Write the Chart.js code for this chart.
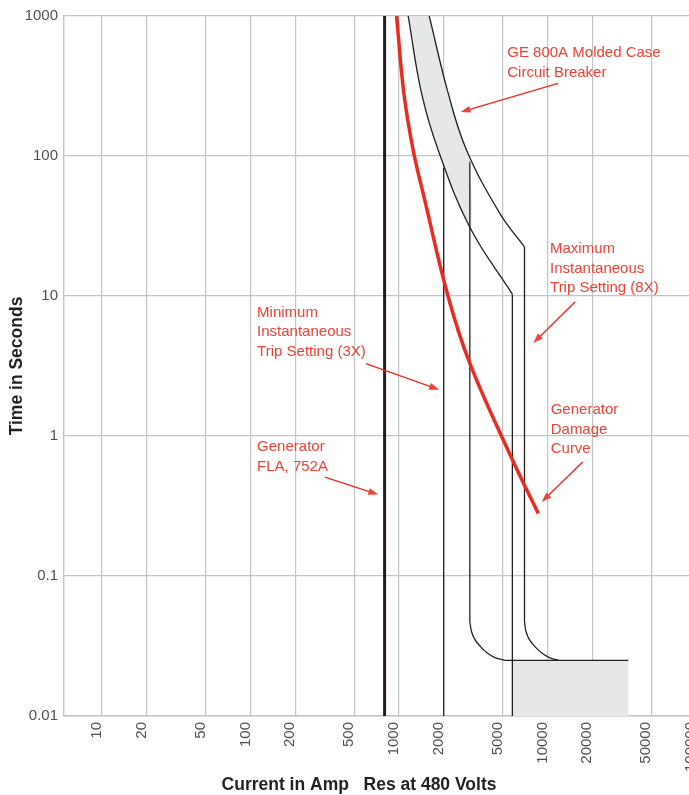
<!DOCTYPE html>
<html>
<head>
<meta charset="utf-8">
<title>Generator protection coordination</title>
<script src="https://cdn.jsdelivr.net/npm/chart.js@4.4.1/dist/chart.umd.min.js"></script>
<style>
  html, body { margin: 0; padding: 0; background: #fff; overflow: hidden; }
  #wrap { width: 689px; height: 795px; overflow: hidden; }
</style>
</head>
<body>
<div id="wrap"><canvas id="tcc" width="700" height="795"></canvas></div>
<script>
// axis ticks
const currentTicks = [10, 20, 50, 100, 200, 500, 1000, 2000, 5000, 10000, 20000, 50000, 100000];
const timeTicks = [0.01, 0.1, 1, 10, 100, 1000];

// generator damage curve (amps / seconds)
const damageAmps = [963, 1079, 1246, 1494, 2146, 3004, 5830, 8670];
const damageSecs = [1000, 280, 110, 48, 9.84, 3.29, 0.67, 0.279];

// breaker thermal band, lower and upper edge
const lowerAmps = [1153, 1420, 1838, 3000, 5800];
const lowerSecs = [1000, 280, 110, 31, 10.3];
const upperAmps = [1598, 2146, 2853, 4786, 7000];
const upperSecs = [1000, 280, 110, 38.8, 22.4];

// instantaneous pickups and where they leave the thermal curves
const flaAmps = 800;
const minInstAmps = 2000, minInstTopSecs = 82;
const minInstHiAmps = 3000, minInstHiTopSecs = 91;
const maxInstAmps = 5800, maxInstTopSecs = 10.3;
const maxInstHiAmps = 7000, maxInstHiTopSecs = 22.4;

// instantaneous knee into clearing time
const kneeSecs = [0.0469, 0.0398, 0.0351, 0.0316, 0.0284, 0.0261, 0.025];
const kneeLowAmps = [3000, 3085, 3248, 3510, 3894, 4429, 5171];
const kneeHighAmps = [7000, 7180, 7560, 8170, 9070, 10300, 11900];
const clearSecs = 0.025;
const clearEndAmps = 35000;

const RED = '#ec2b20';
const INK = '#231f20';
const SHADE = '#e6e7e9';
const GRID = '#c3c4c8';

const pts = (xs, ys) => xs.map((x, i) => ({ x: x, y: ys[i] }));

function line(data, color, width, extra) {
  return Object.assign({
    data: data,
    showLine: true,
    borderColor: color,
    borderWidth: width,
    pointRadius: 0,
    fill: false,
    tension: 0
  }, extra || {});
}

// shaded part of the thermal band, left of the 3X high tolerance line
const bandShape = pts(lowerAmps, lowerSecs).filter(p => p.x <= minInstHiAmps)
  .concat([{ x: minInstHiAmps, y: minInstHiTopSecs }])
  .concat(pts(upperAmps, upperSecs).filter(p => p.x < minInstHiAmps).reverse());

const datasets = [
  line(pts(damageAmps, damageSecs), RED, 3.5, { tension: 0.4 }),
  line([{ x: flaAmps, y: 0.01 }, { x: flaAmps, y: 1000 }], INK, 3),
  line(pts(lowerAmps, lowerSecs), INK, 1.3, { tension: 0.4 }),
  line(pts(upperAmps, upperSecs), INK, 1.3, { tension: 0.4 }),
  line([{ x: minInstAmps, y: 0.01 }, { x: minInstAmps, y: minInstTopSecs }], INK, 1.3),
  line([{ x: minInstHiAmps, y: minInstHiTopSecs }, { x: minInstHiAmps, y: kneeSecs[0] }], INK, 1.3),
  line([{ x: maxInstAmps, y: 0.01 }, { x: maxInstAmps, y: maxInstTopSecs }], INK, 1.3),
  line([{ x: maxInstHiAmps, y: maxInstHiTopSecs }, { x: maxInstHiAmps, y: kneeSecs[0] }], INK, 1.3),
  line(pts(kneeLowAmps, kneeSecs), INK, 1.3, { tension: 0.4 }),
  line(pts(kneeHighAmps, kneeSecs), INK, 1.3, { tension: 0.4 }),
  line([{ x: kneeLowAmps[kneeLowAmps.length - 1], y: clearSecs }, { x: clearEndAmps, y: clearSecs }], INK, 1.3),
  line(bandShape, 'rgba(0,0,0,0)', 0, { fill: 'shape', backgroundColor: SHADE, tension: 0.3 }),
  line([{ x: maxInstAmps, y: 0.01 }, { x: maxInstAmps, y: clearSecs }, { x: clearEndAmps, y: clearSecs }, { x: clearEndAmps, y: 0.01 }],
    'rgba(0,0,0,0)', 0, { fill: 'shape', backgroundColor: SHADE })
];

// callouts, anchored in amps / seconds
const notes = [
  { lines: ['GE 800A Molded Case', 'Circuit Breaker'], at: [5358, 509], from: [11770, 330], to: [2600, 206] },
  { lines: ['Maximum', 'Instantaneous', 'Trip Setting (8X)'], at: [10400, 20.2], from: [15320, 9.06], to: [8022, 4.61] },
  { lines: ['Minimum', 'Instantaneous', 'Trip Setting (3X)'], at: [110.8, 7.08], from: [598.6, 3.29], to: [1866, 2.14] },
  { lines: ['Generator', 'Damage', 'Curve'], at: [10510, 1.43], from: [17260, 0.652], to: [9140, 0.338] },
  { lines: ['Generator', 'FLA, 752A'], at: [110.8, 0.781], from: [316.8, 0.509], to: [724.4, 0.3814] }
];

function arrow(ctx, x1, y1, x2, y2) {
  const a = Math.atan2(y2 - y1, x2 - x1);
  const len = 10, half = 3.5;
  ctx.beginPath();
  ctx.moveTo(x1, y1);
  ctx.lineTo(x2 - Math.cos(a) * len * 0.7, y2 - Math.sin(a) * len * 0.7);
  ctx.stroke();
  ctx.beginPath();
  ctx.moveTo(x2, y2);
  ctx.lineTo(x2 - len * Math.cos(a) + half * Math.sin(a), y2 - len * Math.sin(a) - half * Math.cos(a));
  ctx.lineTo(x2 - len * Math.cos(a) - half * Math.sin(a), y2 - len * Math.sin(a) + half * Math.cos(a));
  ctx.closePath();
  ctx.fill();
}

const callouts = {
  id: 'callouts',
  afterDraw(chart) {
    const ctx = chart.ctx;
    const xs = chart.scales.x, ys = chart.scales.y;
    ctx.save();
    ctx.fillStyle = '#ef4136';
    ctx.strokeStyle = RED;
    ctx.lineWidth = 1.4;
    ctx.font = '15px "Liberation Sans", Arial, sans-serif';
    ctx.textBaseline = 'alphabetic';
    notes.forEach(n => {
      const x = xs.getPixelForValue(n.at[0]);
      const y = ys.getPixelForValue(n.at[1]);
      n.lines.forEach((t, i) => ctx.fillText(t, x, y + i * 19.5));
      arrow(ctx, xs.getPixelForValue(n.from[0]), ys.getPixelForValue(n.from[1]),
        xs.getPixelForValue(n.to[0]), ys.getPixelForValue(n.to[1]));
    });

    // axis titles
    ctx.fillStyle = INK;
    ctx.font = 'bold 17.5px "Liberation Sans", Arial, sans-serif';
    ctx.textAlign = 'center';
    ctx.textBaseline = 'middle';
    ctx.fillText('Current in Amp   Res at 480 Volts', 359, 785);
    ctx.translate(17, (chart.chartArea.top + chart.chartArea.bottom) / 2);
    ctx.rotate(-Math.PI / 2);
    ctx.fillText('Time in Seconds', 0, 0);
    ctx.restore();
  }
};

Chart.defaults.font.family = '"Liberation Sans", Arial, sans-serif';

new Chart(document.getElementById('tcc'), {
  type: 'scatter',
  data: { datasets: datasets },
  options: {
    responsive: false,
    animation: false,
    devicePixelRatio: 1,
    layout: { padding: { top: 16, right: 4, left: 0, bottom: 0 } },
    plugins: { legend: { display: false }, tooltip: { enabled: false } },
    scales: {
      x: {
        type: 'logarithmic',
        min: 5.55,
        max: 100000,
        afterBuildTicks: s => { s.ticks = currentTicks.map(v => ({ value: v })); },
        afterFit: s => { s.height = 79; s.paddingLeft = 0; s.paddingRight = 0; },
        grid: { color: GRID, lineWidth: 1.2, drawTicks: false },
        border: { color: GRID, width: 1.4 },
        ticks: {
          autoSkip: false,
          minRotation: 90,
          maxRotation: 90,
          padding: 6,
          labelOffset: -5,
          color: '#505052',
          font: { size: 15 },
          callback: v => String(v)
        }
      },
      y: {
        type: 'logarithmic',
        min: 0.01,
        max: 1000,
        afterBuildTicks: s => { s.ticks = timeTicks.map(v => ({ value: v })); },
        afterFit: s => { s.width = 64; s.paddingTop = 0; s.paddingBottom = 0; },
        grid: { color: GRID, lineWidth: 1.2, drawTicks: false },
        border: { color: GRID, width: 1.4 },
        ticks: {
          padding: 6,
          color: '#505052',
          font: { size: 15 },
          callback: v => String(v)
        }
      }
    }
  },
  plugins: [callouts]
});
</script>
</body>
</html>
